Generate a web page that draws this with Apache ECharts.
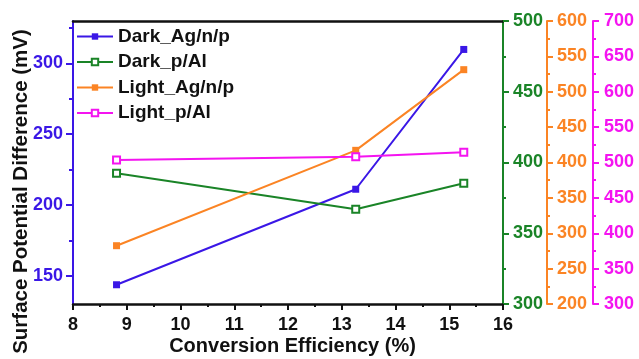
<!DOCTYPE html>
<html><head><meta charset="utf-8">
<script src="https://cdn.jsdelivr.net/npm/echarts@6/dist/echarts.min.js"></script>
<style>html,body{margin:0;padding:0;background:#fff}#c{width:639px;height:359px}</style>
</head><body><div id="c"></div>
<script>
var efficiency = [8.81, 13.26, 15.27];
var darkAg = [143.6, 211.1, 309.9];
var darkPAl = [392.4, 366.9, 385.3];
var lightAg = [282.4, 417.2, 531.2];
var lightPAl = [503.5, 508.2, 514.4];
var leftLabels = [150, 200, 250, 300];
var leftMinor = [175, 225, 275, 325];

var FONT = '"Liberation Sans", Arial, sans-serif';
var BLUE = '#3a17e6', GREEN = '#1a8427', ORANGE = '#fb8424', MAGENTA = '#f414f0';

function pairs(ys){ return efficiency.map(function(x,i){ return [x, ys[i]]; }); }

var chart = echarts.init(document.getElementById('c'), null, {renderer:'canvas'});
function rightAxis(color, min, max, offset, margin){
  return {
    type:'value', position:'right', offset: offset, min:min, max:max, interval:50,
    axisLine:{show:true, lineStyle:{color:color, width:2}},
    axisTick:{show:true, inside:false, length:6, lineStyle:{color:color, width:2}},
    minorTick:{show:true, splitNumber:2, length:3, lineStyle:{color:color, width:2}},
    axisLabel:{color:color, fontSize:18, fontWeight:'bold', fontFamily:FONT, margin:margin},
    splitLine:{show:false}
  };
}
chart.setOption({
  animation:false,
  grid:{left:73, right:136, top:21, bottom:55, containLabel:false, outerBoundsMode:'none'},
  legend:{
    orient:'vertical', left:76, top:27, padding:0, itemWidth:36, itemHeight:8, itemGap:6.5,
    textStyle:{fontSize:19, fontWeight:'bold', fontFamily:FONT, color:'#111'},
    data:['Dark_Ag/n/p','Dark_p/Al','Light_Ag/n/p','Light_p/Al']
  },
  xAxis:[{
    type:'value', min:8, max:16, interval:1,
    name:'Conversion Efficiency (%)', nameLocation:'middle', nameGap:32, nameMoveOverlap:false,
    nameTextStyle:{fontSize:20, fontWeight:'bold', fontFamily:FONT, color:'#111', padding:[0,0,0,9]},
    axisLine:{lineStyle:{color:'#111', width:2.5}},
    axisTick:{length:6, lineStyle:{color:'#111', width:2}},
    minorTick:{show:true, splitNumber:2, length:3, lineStyle:{color:'#111', width:2}},
    axisLabel:{color:'#111', fontSize:18, fontWeight:'bold', fontFamily:FONT, margin:12},
    splitLine:{show:false}
  },{
    type:'value', position:'top', min:8, max:16,
    axisLine:{show:true, lineStyle:{color:'#111', width:2.5}},
    axisTick:{show:false}, axisLabel:{show:false}, splitLine:{show:false}
  }],
  yAxis:[{
    type:'value', position:'left', min:130, max:330,
    name:'Surface Potential Difference (mV)', nameLocation:'middle', nameGap:41, nameMoveOverlap:false,
    nameTextStyle:{fontSize:20.5, fontWeight:'bold', fontFamily:FONT, color:'#111', padding:[0,58,0,0]},
    axisLine:{show:true, lineStyle:{color:BLUE, width:2}},
    axisTick:{show:true, inside:false, length:7, customValues:leftLabels, lineStyle:{color:BLUE, width:2}},
    axisLabel:{color:BLUE, fontSize:18, fontWeight:'bold', fontFamily:FONT, margin:10, customValues:leftLabels},
    splitLine:{show:false}
  },
  rightAxis(GREEN, 300, 500, 0, 10),
  rightAxis(ORANGE, 200, 600, 44, 10),
  rightAxis(MAGENTA, 300, 700, 90, 11),
  {
    type:'value', position:'left', min:130, max:330,
    axisLine:{show:false},
    axisTick:{show:true, inside:false, length:4, customValues:leftMinor, lineStyle:{color:BLUE, width:2}},
    axisLabel:{show:false}, splitLine:{show:false}
  }],
  series:[
    {name:'Dark_Ag/n/p', type:'line', yAxisIndex:0, data:pairs(darkAg), symbol:'rect', symbolSize:7,
     lineStyle:{color:BLUE, width:2}, itemStyle:{color:BLUE}},
    {name:'Dark_p/Al', type:'line', yAxisIndex:1, data:pairs(darkPAl), symbol:'emptyRect', symbolSize:7,
     lineStyle:{color:GREEN, width:2}, itemStyle:{color:GREEN, borderWidth:1}},
    {name:'Light_Ag/n/p', type:'line', yAxisIndex:2, data:pairs(lightAg), symbol:'rect', symbolSize:7,
     lineStyle:{color:ORANGE, width:2}, itemStyle:{color:ORANGE}},
    {name:'Light_p/Al', type:'line', yAxisIndex:3, data:pairs(lightPAl), symbol:'emptyRect', symbolSize:7,
     lineStyle:{color:MAGENTA, width:2}, itemStyle:{color:MAGENTA, borderWidth:1}}
  ]
});
</script></body></html>
